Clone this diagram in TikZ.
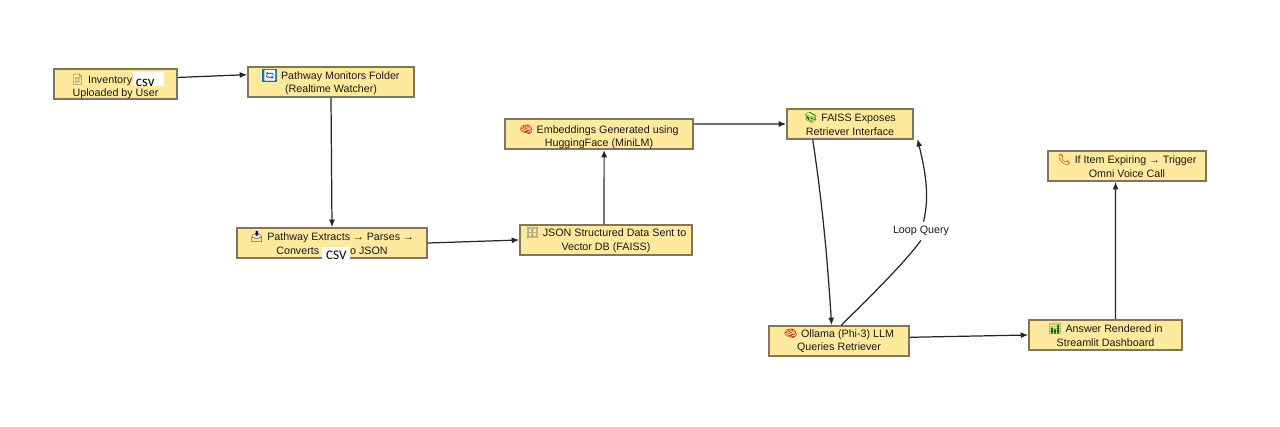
\documentclass[tikz,border=0pt]{standalone}
\usepackage{fontspec}
\usepackage{xcolor}
\usetikzlibrary{arrows.meta}
\setmainfont{Liberation Sans}
\newfontfamily\emojifont{Noto Emoji}
\newfontfamily\patchfont{Carlito}
\definecolor{boxfill}{HTML}{FFE99C}
\definecolor{boxline}{HTML}{80775A}
\definecolor{wirecol}{HTML}{262626}
\newcommand{\icon}[2]{{\emojifont\textcolor{#1}{#2}}}
\newcommand{\bluesq}{\setlength{\fboxsep}{0.4pt}\colorbox[HTML]{1F6FA8}{\icon{white}{🔄}}}
\def\u{0.02cm}

\begin{document}
\begin{tikzpicture}[x=0.02cm,y=-0.02cm,
  stepbox/.style={draw=boxline,fill=boxfill,line width=0.9pt,inner sep=0pt,minimum height=30*\u,
    align=center,text=black!90,font=\fontsize{6.1}{7.7}\selectfont},
  wire/.style={draw=wirecol,line width=0.7pt,-{Latex[length=1.5mm,width=1.2mm]}},
  patch/.style={fill=white,inner sep=0pt,text=black,anchor=north west}]
\useasboundingbox (0,0) rectangle (1280,426);

\node[stepbox,minimum width=123*\u] (inv) at (115.5,84) {\rule{0pt}{8pt}\icon{black!60}{📄}\,\,Inventory\rule{0.56cm}{0pt}\\Uploaded by User};
\node[stepbox,minimum width=166*\u] (watch) at (331,82) {\bluesq{}\,\,Pathway Monitors Folder\\(Realtime Watcher)};
\node[stepbox,minimum width=190*\u] (extract) at (332,243) {\icon{blue!50!black}{📥}\,\,Pathway Extracts → Parses →\\Converts\rule{0.62cm}{0pt}o JSON};
\node[stepbox,minimum width=172*\u] (json) at (606,240) {\icon{black!60}{🗄}\,\,JSON Structured Data Sent to\\Vector DB (FAISS)};
\node[stepbox,minimum width=188*\u] (embed) at (599,134) {\rule{0pt}{8pt}\icon{red!70!black}{🧠}\,\,Embeddings Generated using\\HuggingFace (MiniLM)};
\node[stepbox,minimum width=126*\u] (faiss) at (850,124) {\icon{green!45!black}{📚}\,\,FAISS Exposes\\Retriever Interface};
\node[stepbox,minimum width=140*\u] (ollama) at (839,341) {\icon{red!70!black}{🧠}\,\,Ollama (Phi-3) LLM\\Queries Retriever};
\node[stepbox,minimum width=153*\u] (answer) at (1105.5,335) {\icon{green!40!black}{📊}\,\,Answer Rendered in\\Streamlit Dashboard};
\node[stepbox,minimum width=158*\u] (call) at (1127,166) {\icon{red!60!black}{📞}\,\,If Item Expiring → Trigger\\Omni Voice Call};

% white patches over the labels
\node[patch,minimum width=31*\u,minimum height=14*\u,text height=14*\u,text depth=0pt,font=\patchfont\fontsize{8.5}{8.5}\selectfont,text width=31*\u] (csvone) at (133,72) {\,csv};
\node[patch,minimum width=28*\u,minimum height=16*\u,font=\patchfont\fontsize{7.5}{7.5}\selectfont,align=center] (csvtwo) at (322,247) {CSV};

\node[font=\fontsize{6.1}{7.5}\selectfont,text=black!90,inner sep=1pt,minimum height=18*\u] (loopq) at (921,231) {Loop Query};
\coordinate (faissin) at (917.5,139);

\draw[wire] (inv.6.5) -- (watch.175);
\draw[wire] (watch.south) -- (extract.north);
\draw[wire] (extract.east) -- (json.west);
\draw[wire] (json.97) -- (embed.-72);
\draw[wire] (embed.6) -- (faiss.west);
\draw[wire] (faiss.203) .. controls (824,215) and (828,270) .. (ollama.115);
\draw[draw=wirecol,line width=0.7pt] (ollama.82) .. controls (875,292) and (905,262) .. (loopq.south);
\draw[wire] (loopq.75) .. controls (930,195) and (925,170) .. (faissin);
\draw[wire] (ollama.3.3) -- (answer.west);
\draw[wire] (answer.58) -- (call.234);

\end{tikzpicture}
\end{document}
